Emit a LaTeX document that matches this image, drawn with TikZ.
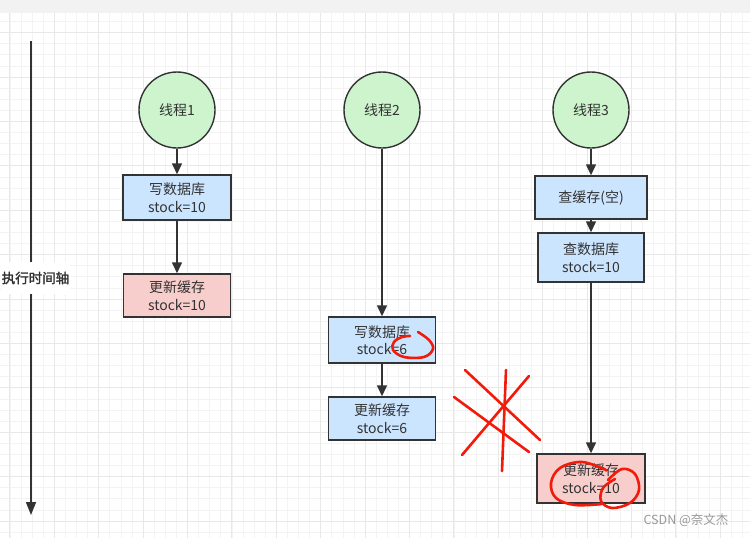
\documentclass[tikz,border=0pt]{standalone}
\usepackage{fontspec}
\usetikzlibrary{arrows.meta}
\newfontfamily\cjk{Noto Sans CJK SC}
\newfontfamily\cjkb{Noto Sans CJK SC}[FakeBold=2]
\definecolor{inkc}{HTML}{333333}
\definecolor{boxblue}{HTML}{CCE5FF}
\definecolor{boxpink}{HTML}{F8CECC}
\definecolor{thgreen}{HTML}{CDF4CD}
\definecolor{gridminor}{HTML}{F3F3F3}
\definecolor{gridmajor}{HTML}{E8E8E8}
\definecolor{topbar}{HTML}{F2F2F2}
\definecolor{annot}{HTML}{F21A0A}
\tikzset{
  thread/.style={circle, draw=inkc, line width=1.4pt, fill=thgreen, minimum size=76pt, inner sep=0pt, font=\cjk\fontsize{14}{17}\selectfont, text=inkc},
  procbox/.style={rectangle, draw=inkc, line width=1.4pt, fill=boxblue, inner sep=0pt, align=center, font=\cjk\fontsize{14}{17.5}\selectfont, text=inkc},
  cachebox/.style={procbox, fill=boxpink},
  flow/.style={draw=inkc, line width=1.4pt, -{Triangle[length=11pt,width=10pt]}},
  redmark/.style={draw=annot, line width=2.6pt, line cap=round, line join=round},
}
\begin{document}
\begin{tikzpicture}[x=1pt,y=-1pt]
\useasboundingbox (0,0) rectangle (750,538);
\fill[white] (0,0) rectangle (750,538);
% grid
\foreach \i in {0,...,67} {
  \draw[gridminor, line width=0.8pt] (9.9+\i*11.1,13) -- ++(0,525);
}
\foreach \i in {0,...,47} {
  \draw[gridminor, line width=0.8pt] (0,21.5+\i*11.1) -- ++(750,0);
}
\foreach \i in {0,...,16} {
  \draw[gridmajor, line width=1pt] (9.9+\i*44.4,13) -- ++(0,525);
}
\foreach \i in {0,...,11} {
  \draw[gridmajor, line width=1pt] (0,32.6+\i*44.4) -- ++(750,0);
}
\fill[topbar] (0,0) rectangle (750,13);

% time axis
\coordinate (axtop) at (31,41);
\coordinate (axbot) at (31,515);
\draw[draw=inkc, line width=1.6pt, -{Triangle[length=13pt,width=10pt]}] (axtop) -- (axbot);
\node[fill=white, inner xsep=1pt, inner ysep=10pt, text=inkc, font=\cjkb\fontsize{13.5}{16}\selectfont] (axlabel) at (35.5,278) {执行时间轴};

% thread 1
\node[thread] (t1) at (177,110) {线程1};
\node[procbox, minimum width=108pt, minimum height=45pt] (w1) at (177,197.5) {写数据库\\stock=10};
\node[cachebox, minimum width=107pt, minimum height=43pt] (c1) at (177,295.5) {更新缓存\\stock=10};
\draw[flow] (t1) -- (w1);
\draw[flow] (w1) -- (c1);

% thread 2
\node[thread] (t2) at (382,110) {线程2};
\node[procbox, minimum width=107pt, minimum height=46pt] (w2) at (382,340) {写数据库\\stock=6};
\node[procbox, minimum width=107pt, minimum height=43pt] (c2) at (382,418.5) {更新缓存\\stock=6};
\draw[flow] (t2) -- (w2);
\draw[flow] (w2) -- (c2);

% thread 3
\node[thread] (t3) at (591,110) {线程3};
\node[procbox, minimum width=112pt, minimum height=43pt] (q3) at (591,197.5) {查缓存(空)};
\node[procbox, minimum width=106pt, minimum height=49pt] (r3) at (591,257.5) {查数据库\\stock=10};
\node[cachebox, minimum width=108pt, minimum height=49pt] (c3) at (591,478.5) {更新缓存\\stock=10};
\draw[flow] (t3) -- (q3);
\draw[flow] (q3) -- (r3);
\draw[flow] (r3) -- (c3);

% red annotations
\draw[redmark] plot[smooth, tension=0.6] coordinates {(418,332) (429,340) (433,349) (424,357) (404,357) (393,350) (394,342) (402,337) (410,336)};
\draw[redmark] (465,370) -- (540,440);
\draw[redmark] (454,397) -- (529,452);
\draw[redmark] (529,376) -- (462,455);
\draw[redmark] (506,370) -- (502,471);
\draw[redmark] plot[smooth, tension=0.6] coordinates {(606,470) (582,462) (560,468) (551,483) (556,498) (575,505) (602,504)};
\draw[redmark] plot[smooth, tension=0.6] coordinates {(608,480) (622,469) (635,474) (639,490) (630,503) (612,508) (601,501) (603,488) (615,479)};

% watermark
\node[text=gray!80, font=\cjk\fontsize{12.5}{15}\selectfont, inner sep=0pt] (wm) at (686,520) {CSDN @奈文杰};
\end{tikzpicture}
\end{document}
